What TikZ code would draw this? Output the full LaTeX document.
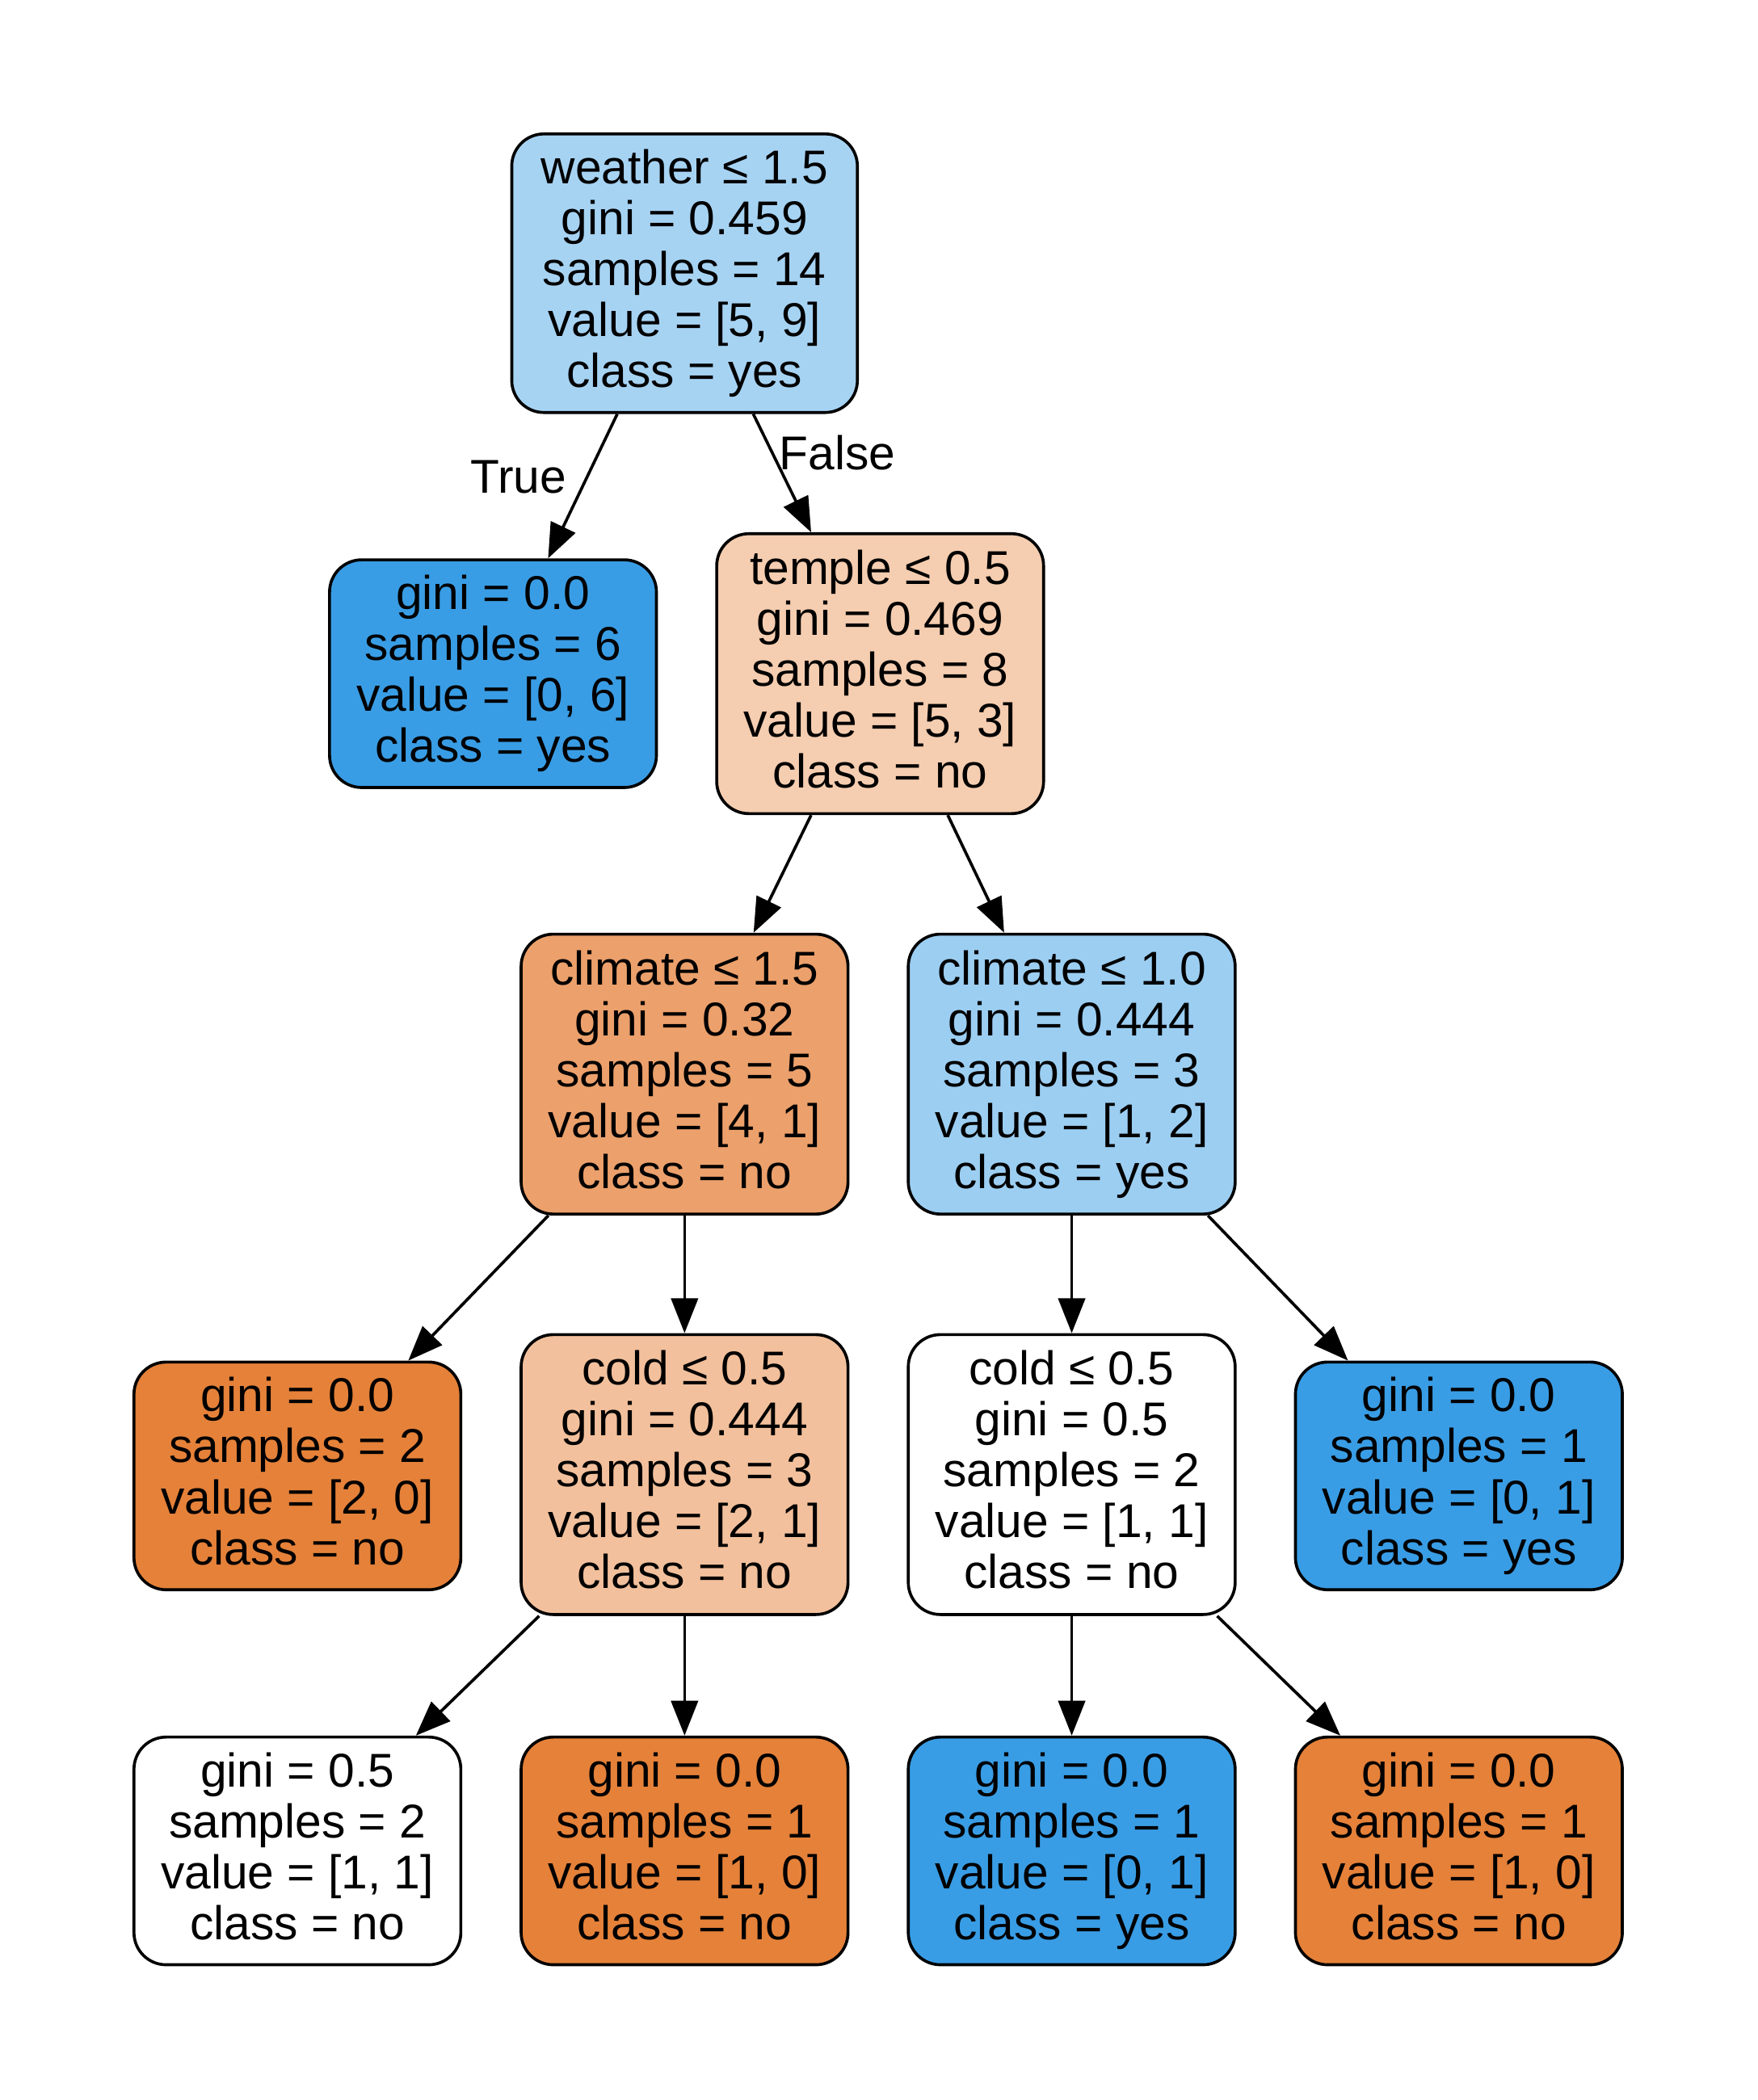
\documentclass[tikz,border=0pt]{standalone}
\usepackage{fontspec}
\setmainfont{Liberation Sans}
\usetikzlibrary{arrows.meta}

% class colours: orange = "no", blue = "yes", lighter for impure nodes
\definecolor{noFull}{RGB}{229,129,57}
\definecolor{yesFull}{RGB}{57,157,229}
\definecolor{rootBlue}{RGB}{167,211,243}
\definecolor{templeOr}{RGB}{245,205,176}
\definecolor{climOr}{RGB}{236,160,107}
\definecolor{climBlue}{RGB}{156,206,242}
\definecolor{coldOr}{RGB}{242,192,156}

% last line of every box gets the same depth so all boxes centre alike
\newcommand{\lastln}[1]{#1\vphantom{y}}

\begin{document}
\begin{tikzpicture}[x=0.5pt,y=-0.5pt,
  every node/.style={font=\fontsize{17.7}{19}\selectfont},
  box/.style={draw=black, line width=1.1pt, rounded corners=12pt,
              minimum width=122pt, align=center, inner sep=0pt},
  split/.style={box, minimum height=104.5pt},
  leaf/.style={box, minimum height=85pt},
  link/.style={-{Triangle[length=13pt,width=10pt]}, line width=1.1pt}]

\useasboundingbox (0,0) rectangle (1312,1568);

% level 0
\node[split, minimum width=129pt, minimum height=104pt, fill=rootBlue] (root) at (511,204)
  {weather ≤ 1.5\\gini = 0.459\\samples = 14\\value = [5, 9]\\\lastln{class = yes}};

% level 1
\node[leaf, fill=yesFull] (a) at (368,503)
  {gini = 0.0\\samples = 6\\value = [0, 6]\\\lastln{class = yes}};
\node[split, fill=templeOr] (b) at (657,503)
  {temple ≤ 0.5\\gini = 0.469\\samples = 8\\value = [5, 3]\\\lastln{class = no}};

% level 2
\node[split, fill=climOr] (c) at (511,802)
  {climate ≤ 1.5\\gini = 0.32\\samples = 5\\value = [4, 1]\\\lastln{class = no}};
\node[split, fill=climBlue] (d) at (800,802)
  {climate ≤ 1.0\\gini = 0.444\\samples = 3\\value = [1, 2]\\\lastln{class = yes}};

% level 3
\node[leaf, fill=noFull] (e) at (222,1102)
  {gini = 0.0\\samples = 2\\value = [2, 0]\\\lastln{class = no}};
\node[split, fill=coldOr] (f) at (511,1101)
  {cold ≤ 0.5\\gini = 0.444\\samples = 3\\value = [2, 1]\\\lastln{class = no}};
\node[split, fill=white] (g) at (800,1101)
  {cold ≤ 0.5\\gini = 0.5\\samples = 2\\value = [1, 1]\\\lastln{class = no}};
\node[leaf, fill=yesFull] (h) at (1089,1102)
  {gini = 0.0\\samples = 1\\value = [0, 1]\\\lastln{class = yes}};

% level 4
\node[leaf, fill=white] (i) at (222,1382)
  {gini = 0.5\\samples = 2\\value = [1, 1]\\\lastln{class = no}};
\node[leaf, fill=noFull] (j) at (511,1382)
  {gini = 0.0\\samples = 1\\value = [1, 0]\\\lastln{class = no}};
\node[leaf, fill=yesFull] (k) at (800,1382)
  {gini = 0.0\\samples = 1\\value = [0, 1]\\\lastln{class = yes}};
\node[leaf, fill=noFull] (l) at (1089,1382)
  {gini = 0.0\\samples = 1\\value = [1, 0]\\\lastln{class = no}};

% edge labels of the first split
\node (tlab) at (387,356) {True};
\node (flab) at (625,338) {False};

% connectors
\draw[link] (root) -- (a);
\draw[link] (root) -- (b);
\draw[link] (b) -- (c);
\draw[link] (b) -- (d);
\draw[link] (c) -- (e);
\draw[link] (c) -- (f);
\draw[link] (d) -- (g);
\draw[link] (d) -- (h);
\draw[link] (f) -- (i);
\draw[link] (f) -- (j);
\draw[link] (g) -- (k);
\draw[link] (g) -- (l);
\end{tikzpicture}
\end{document}
